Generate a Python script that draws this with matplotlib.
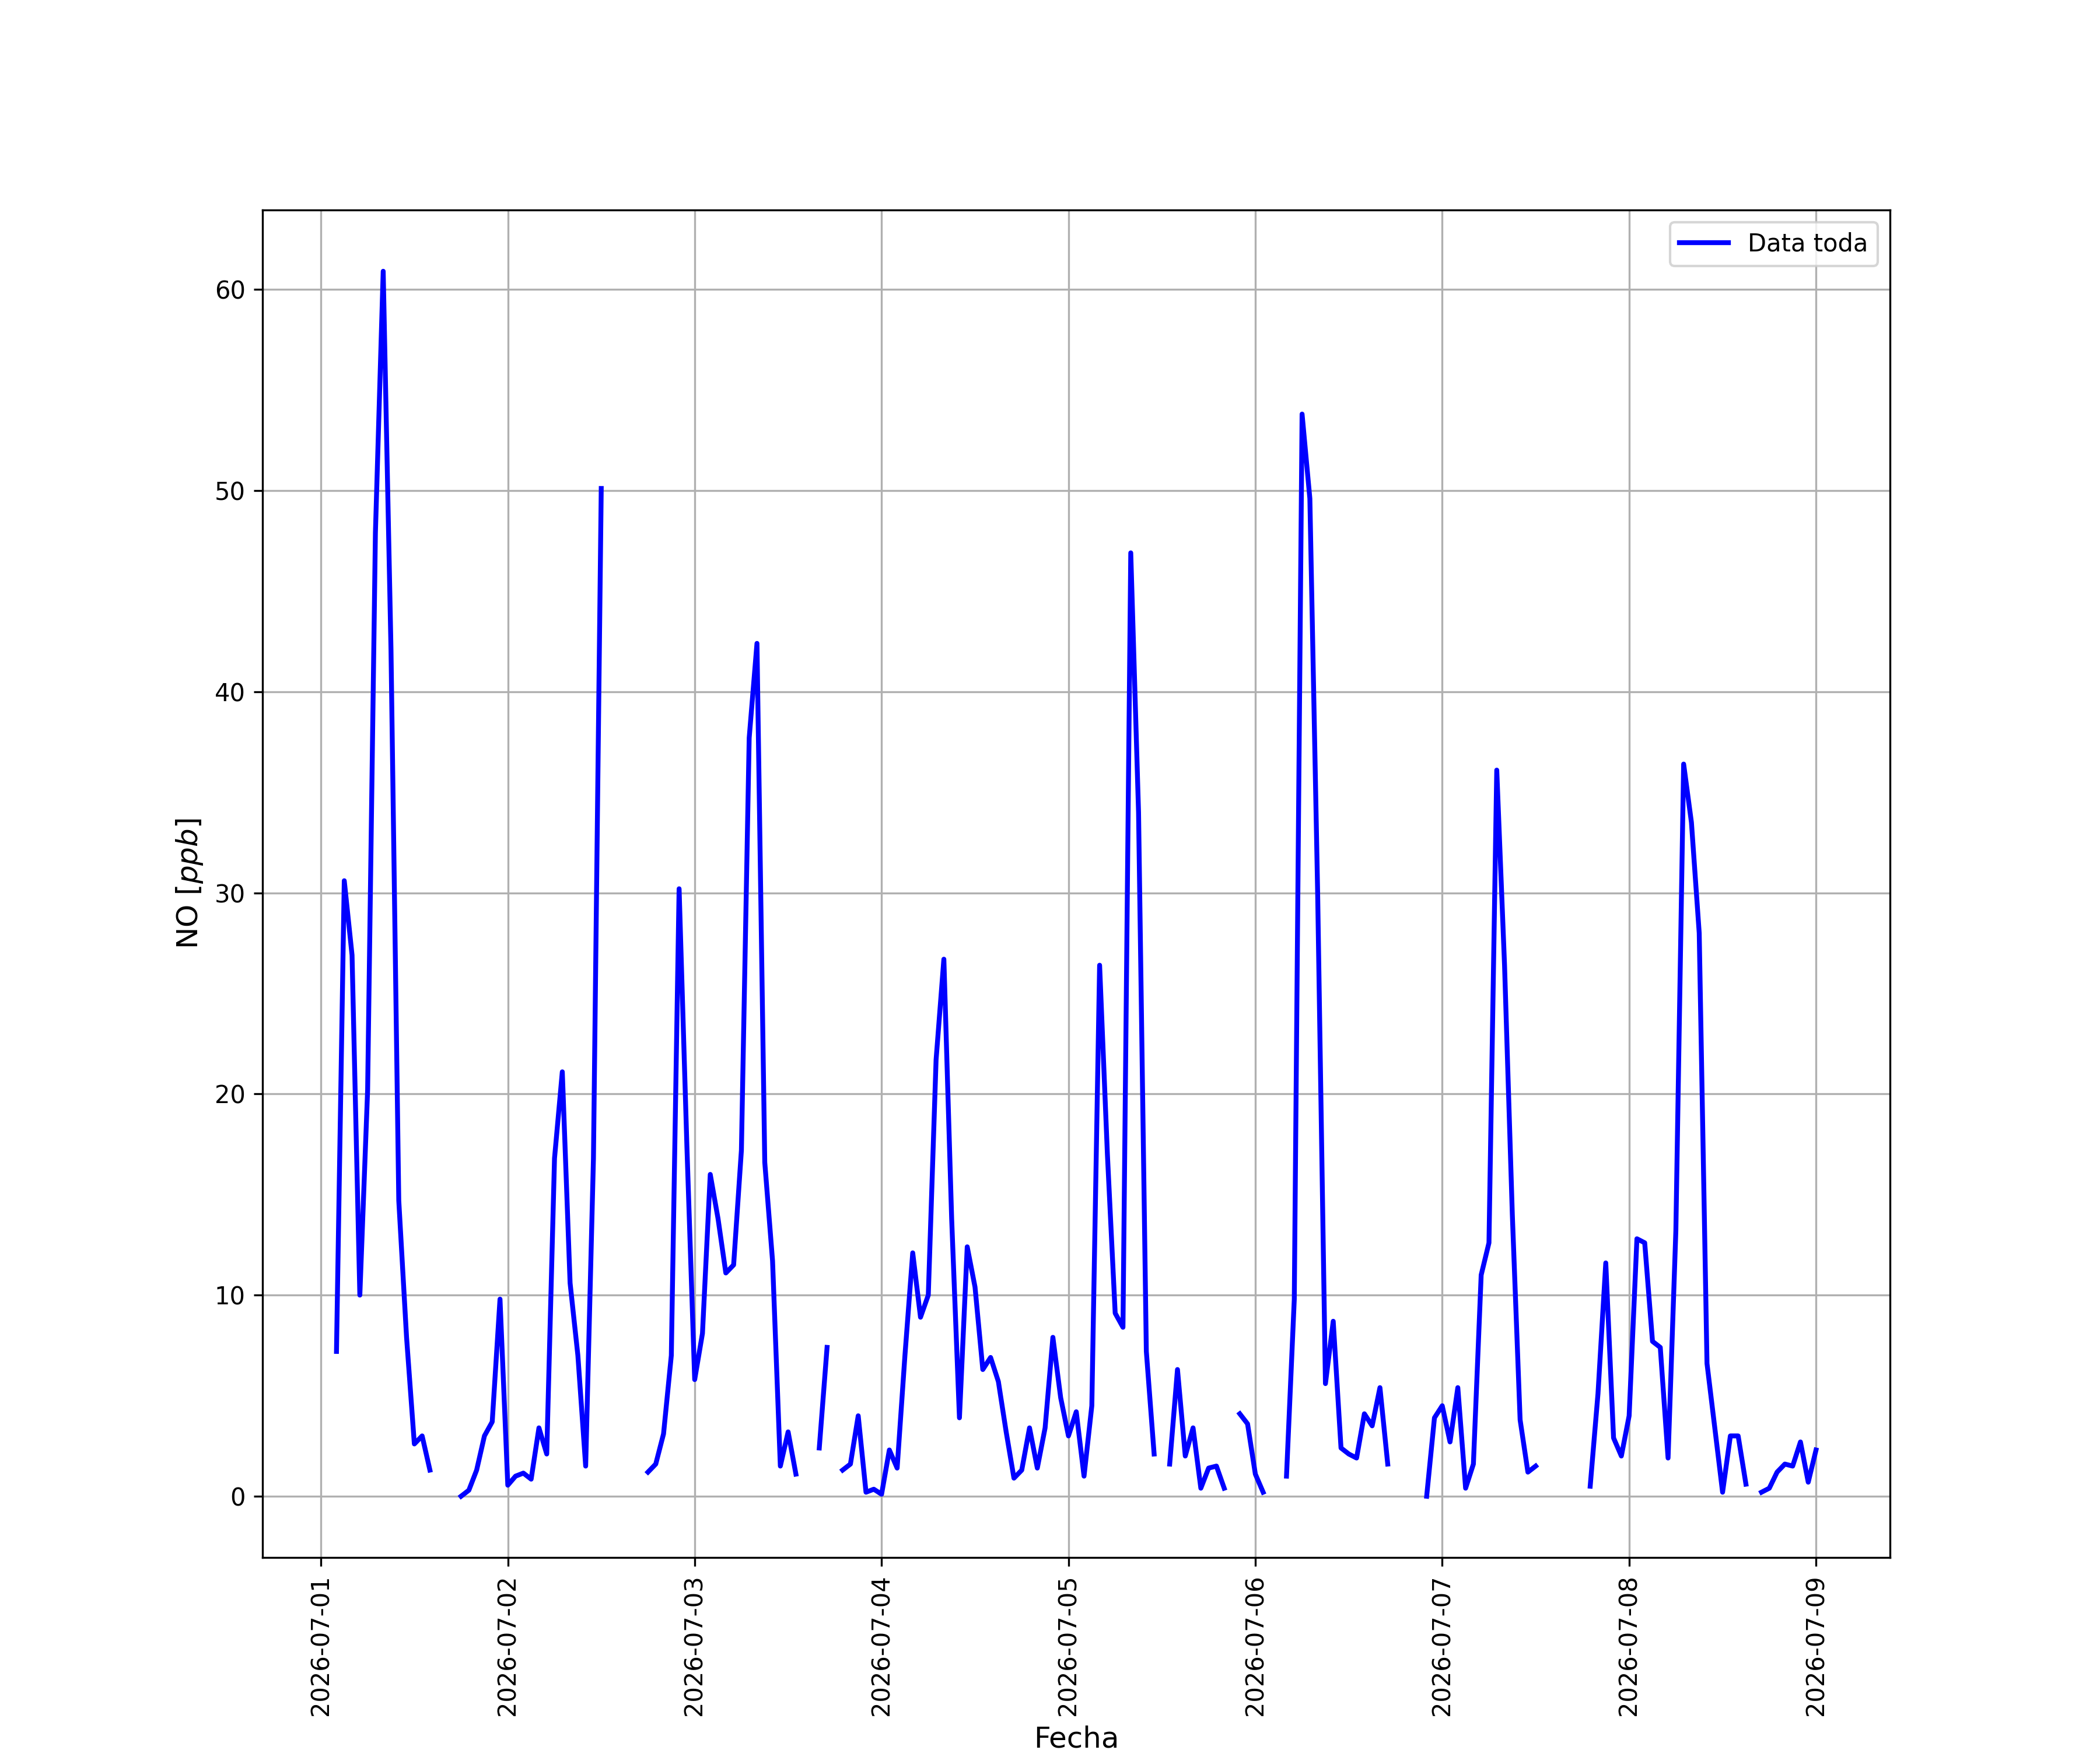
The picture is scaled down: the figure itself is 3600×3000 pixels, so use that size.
import numpy as np
import pandas as pd
import matplotlib
matplotlib.use("Agg")
from matplotlib import pyplot as plt
import matplotlib.dates as mdates

nan = np.nan

# NO horario (ppb), una lista por dia; el dia 1 empieza a las 02:00
dia_01 = [7.2, 30.6, 26.9, 10.0, 20.2, 47.9, 60.9, 42.1, 14.7, 7.9, 2.6, 3.0,
          1.3, nan, nan, nan, 0.0, 0.3, 1.3, 3.0, 3.7, 9.8]
dia_02 = [0.55, 1.0, 1.15, 0.85, 3.4, 2.1, 16.8, 21.1, 10.6, 7.0, 1.5, 16.8,
          50.1, nan, nan, nan, nan, nan, 1.2, 1.6, 3.1, 7.0, 30.2, 17.4]
dia_03 = [5.8, 8.1, 16.0, 13.8, 11.1, 11.5, 17.2, 37.7, 42.4, 16.6, 11.7, 1.5,
          3.2, 1.1, nan, nan, 2.4, 7.4, nan, 1.3, 1.6, 4.0, 0.2, 0.35]
dia_04 = [0.1, 2.3, 1.4, 7.0, 12.1, 8.9, 10.0, 21.7, 26.7, 13.8, 3.9, 12.4,
          10.4, 6.3, 6.9, 5.7, 3.2, 0.9, 1.3, 3.4, 1.4, 3.4, 7.9, 4.9]
dia_05 = [3.0, 4.2, 1.0, 4.5, 26.4, 17.0, 9.1, 8.4, 46.9, 34.0, 7.2, 2.1,
          nan, 1.6, 6.3, 2.0, 3.4, 0.4, 1.4, 1.5, 0.4, nan, 4.1, 3.6]
dia_06 = [1.1, 0.2, nan, nan, 1.0, 9.8, 53.8, 49.6, 30.0, 5.6, 8.7, 2.4,
          2.1, 1.9, 4.1, 3.5, 5.4, 1.6, nan, nan, nan, nan, 0.0, 3.9]
dia_07 = [4.5, 2.7, 5.4, 0.4, 1.6, 11.0, 12.6, 36.1, 26.4, 14.0, 3.8, 1.2,
          1.5, nan, nan, nan, nan, nan, nan, 0.5, 5.1, 11.6, 2.9, 2.0]
dia_08 = [4.0, 12.8, 12.6, 7.7, 7.4, 1.9, 13.2, 36.4, 33.5, 28.0, 6.6, 3.4,
          0.2, 3.0, 3.0, 0.6, nan, 0.2, 0.4, 1.2, 1.6, 1.5, 2.7, 0.7]
dia_09 = [2.3]

no_ppb = dia_01 + dia_02 + dia_03 + dia_04 + dia_05 + dia_06 + dia_07 + dia_08 + dia_09
fechas = pd.date_range("2026-07-01 02:00", periods=len(no_ppb), freq="h")

fig = plt.figure(figsize=(12, 10))
plt.plot(fechas, no_ppb, color="blue", linewidth=2, label="Data toda")
plt.grid(True)
ax = plt.gca()
ax.xaxis.set_major_locator(mdates.DayLocator())
ax.xaxis.set_major_formatter(mdates.DateFormatter("%Y-%m-%d"))
plt.xticks(rotation=90)
plt.xlabel("Fecha", fontsize=12)
plt.ylabel("NO [$ppb$]", fontsize=12)
plt.legend(loc="upper right")
plt.savefig("out.png", dpi=300)
